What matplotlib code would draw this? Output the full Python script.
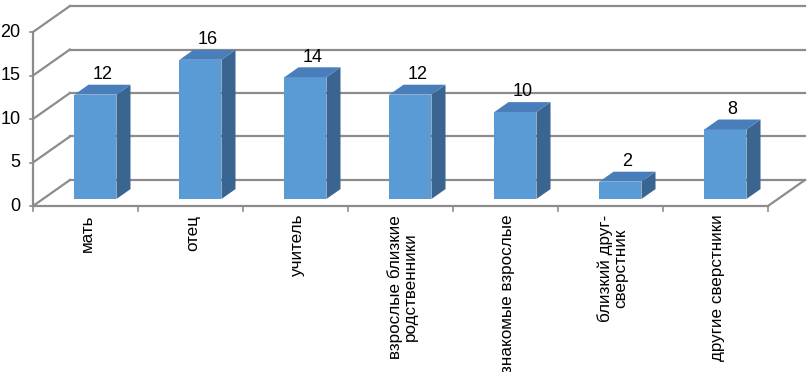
import matplotlib.pyplot as plt
from matplotlib.patches import Polygon

plt.rcParams['font.family'] = ['Liberation Sans', 'DejaVu Sans']

# data
categories = ['мать', 'отец', 'учитель', 'взрослые близкие\nродственники',
              'знакомые взрослые', 'близкий друг-\nсверстник', 'другие сверстники']
values = [12, 16, 14, 12, 10, 2, 8]
y_ticks = [0, 5, 10, 15, 20]

# oblique projection of the depth axis (in data units)
dep_x, dep_y = 0.352, 2.99
n = len(categories)
ymax = 20

fig = plt.figure(figsize=(8.08, 3.72), dpi=100)
ax = fig.add_axes([0, 0, 1, 1])
ax.set_xlim(-0.314, 7.381)
ax.set_ylim(-19.08, 23.68)
ax.axis('off')

grid_c = '#8c8c8c'
lw = 1.6

# back wall gridlines and left wall diagonals
for t in y_ticks:
    ax.plot([dep_x, n + dep_x], [t + dep_y, t + dep_y], color=grid_c, lw=lw, zorder=1)
    ax.plot([0, dep_x], [t, t + dep_y], color=grid_c, lw=lw, zorder=1)
    ax.plot([-0.03, 0], [t, t], color=grid_c, lw=1.2, zorder=1)
    ax.text(-0.12, t, str(t), ha='right', va='center', fontsize=13, color='black')

# floor
ax.plot([0, n], [0, 0], color=grid_c, lw=lw, zorder=1)
ax.plot([n, n + dep_x], [0, dep_y], color=grid_c, lw=lw, zorder=1)
# left axis
ax.plot([0, 0], [0, ymax], color=grid_c, lw=lw, zorder=1)
# category ticks
for i in range(n + 1):
    ax.plot([i, i], [0, -0.6], color=grid_c, lw=1.2, zorder=1)

# 3d bars
front_c = '#5b9bd5'
side_c = '#3b6591'
top_c = '#4a7ebb'
d0, d1 = 0.27, 0.65   # depth range of the bars
bw = 0.4
for i, v in enumerate(values):
    x0 = i + 0.3 + d0 * dep_x
    y0 = d0 * dep_y
    x1 = x0 + bw
    ox = (d1 - d0) * dep_x
    oy = (d1 - d0) * dep_y
    ax.add_patch(Polygon([(x0, y0), (x1, y0), (x1, y0 + v), (x0, y0 + v)],
                         closed=True, fc=front_c, ec='none', zorder=3))
    ax.add_patch(Polygon([(x1, y0), (x1 + ox, y0 + oy), (x1 + ox, y0 + oy + v), (x1, y0 + v)],
                         closed=True, fc=side_c, ec='none', zorder=3))
    ax.add_patch(Polygon([(x0, y0 + v), (x1, y0 + v), (x1 + ox, y0 + v + oy), (x0 + ox, y0 + v + oy)],
                         closed=True, fc=top_c, ec='none', zorder=3))
    ax.text(x0 + bw / 2 + ox / 2, y0 + v + oy + 0.2, str(v), ha='center', va='bottom',
            fontsize=13, color='black', zorder=4)

# category labels
for i, c in enumerate(categories):
    ax.text(i + 0.52, -1.0, c, rotation=90, ha='center', va='top', fontsize=12.3,
            multialignment='center', linespacing=1.0)

fig.savefig('out.png', dpi=100)
